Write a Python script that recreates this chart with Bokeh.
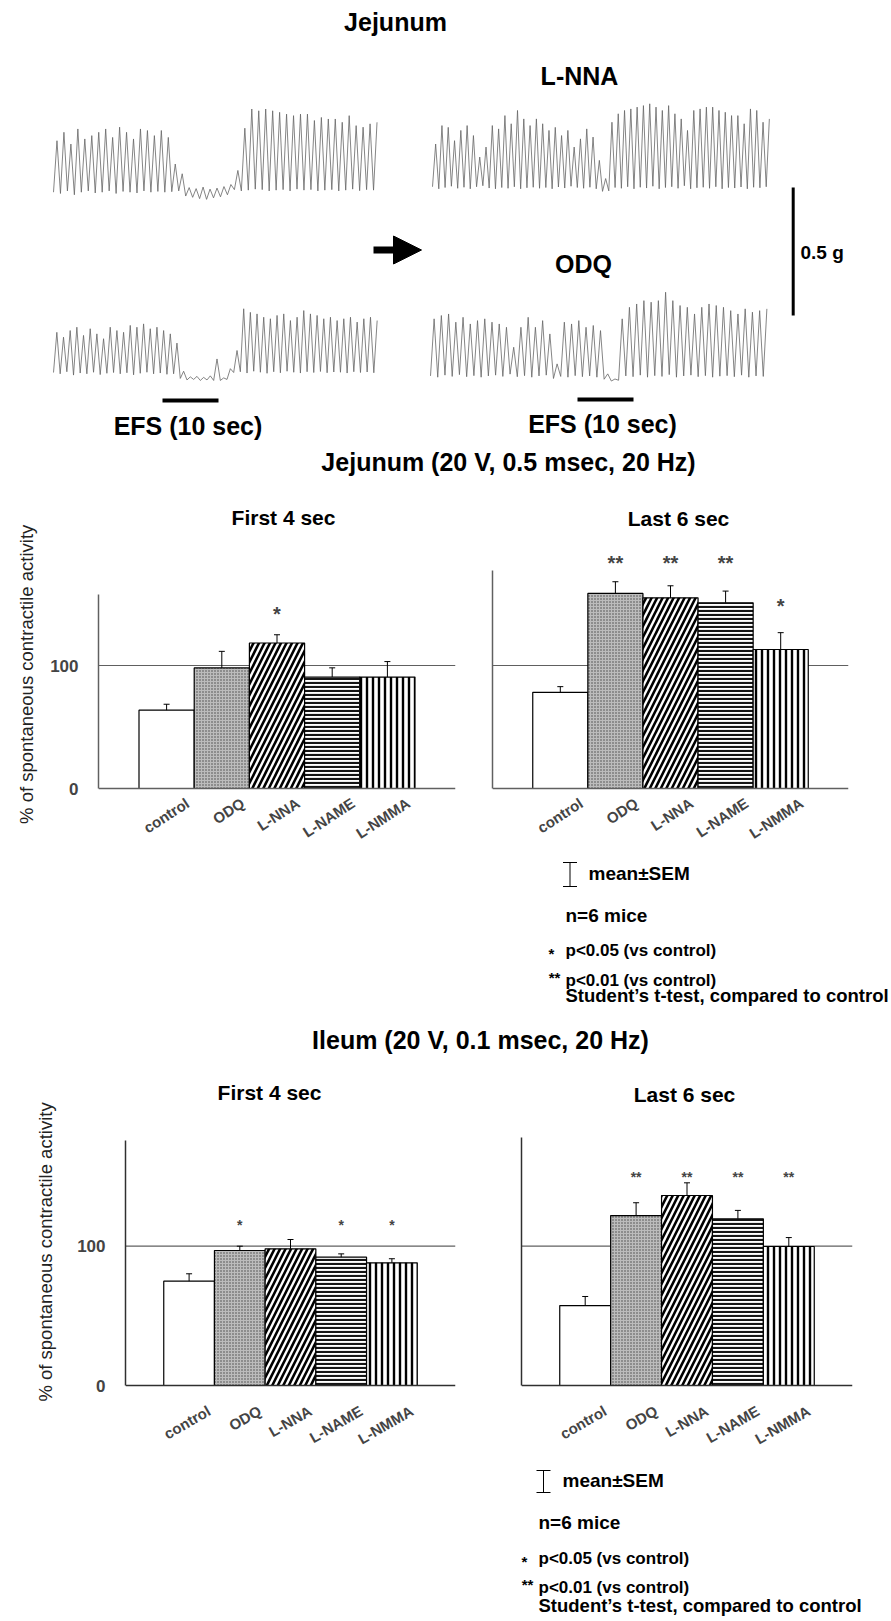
import math

from bokeh.core.properties import value
from bokeh.embed import file_html
from bokeh.layouts import column, row
from bokeh.models import (Arrow, ColumnDataSource, FactorRange, FixedTicker, Label,
                          LabelSet, NormalHead, Range1d, Span, TeeHead, Whisker)
from bokeh.plotting import figure
from bokeh.resources import INLINE

# ---------------------------------------------------------------- data
agents = ["control", "ODQ", "L-NNA", "L-NAME", "L-NMMA"]

# % of spontaneous contractile activity during EFS (mean, SEM), n = 6 mice
jej_first_mean = [63.7, 98.0, 118.3, 90.6, 90.6]
jej_first_sem = [4.8, 13.5, 6.7, 7.5, 12.6]
jej_first_sig = ["", "", "*", "", ""]

jej_last_mean = [78.2, 158.6, 155.0, 151.0, 113.0]
jej_last_sem = [4.6, 9.5, 9.8, 9.5, 13.7]
jej_last_sig = ["", "**", "**", "**", "*"]

ile_first_mean = [74.9, 96.9, 98.1, 92.1, 88.1]
ile_first_sem = [5.3, 3.1, 6.7, 2.4, 2.9]
ile_first_sig = ["", "*", "", "*", "*"]

ile_last_mean = [57.4, 122.0, 136.4, 119.7, 99.8]
ile_last_sem = [6.5, 9.2, 9.1, 6.0, 6.4]
ile_last_sig = ["", "**", "**", "**", "**"]

# jejunal tension recordings: mg above resting level, one peak / trough per cycle
ctrl_a_peaks = [201, 234, 188, 247, 208, 221, 234, 247, 214, 254, 234, 208, 247, 241, 221,
                241, 214, 110, 72, 18, 14, 20, 12, 16, 22, 30, 85, 250, 325, 318, 325, 318,
                312, 305, 299, 305, 305, 280, 292, 286, 286, 273, 299, 260, 254, 267, 273]
ctrl_a_troughs = [0, -5, 5, -10, 0, 5, -3, 0, 5, -5, 3, 0, -3, 5, 0, 3, 0, 2, 5, -15, -20,
                  -25, -28, -22, -18, -10, 10, 5, 8, 12, 10, 5, 8, 10, 5, 12, 8, 10, 5, 8, 10,
                  5, 8, 12, 6, 10, 8]

ctrl_b_peaks = [162, 143, 169, 182, 150, 176, 156, 137, 182, 169, 162, 189, 182, 195, 176,
                182, 169, 156, 120, 10, -12, -10, -14, -8, 58, -16, 20, 91, 254, 240, 234,
                221, 215, 228, 234, 208, 221, 247, 234, 228, 215, 221, 208, 215, 221, 202,
                215, 221, 208]
ctrl_b_troughs = [5, 0, 8, -5, 3, 0, 6, -3, 2, 5, 0, 4, -4, 2, 6, 0, 3, -2, 0, -18, -24, -22,
                  -26, -24, -26, -26, -22, 5, 8, 3, 10, 6, 2, 8, 4, 10, 6, 3, 8, 5, 9, 4, 7, 6,
                  3, 8, 5, 7, 4]

lnna_peaks = [175, 247, 240, 188, 228, 247, 208, 124, 163, 247, 234, 286, 254, 306, 273, 247,
              273, 254, 228, 240, 208, 228, 163, 195, 234, 202, 111, 40, 260, 293, 306, 312,
              319, 325, 332, 319, 306, 325, 293, 273, 228, 306, 312, 319, 319, 306, 299, 286,
              286, 254, 312, 306, 260, 273]
lnna_troughs = [8, 0, 5, 10, 2, 6, 0, 8, 12, 3, 0, 5, 2, 8, 0, 4, 6, 2, 5, 0, 7, 3, 10, 5, 2,
                6, 0, -10, -8, 5, 2, 8, 0, 6, 3, 10, 0, 5, 8, 2, 12, 0, 4, 6, 2, 8, 0, 5, 3, 7,
                0, 6, 4, 8]

odq_peaks = [228, 241, 247, 215, 234, 208, 221, 228, 215, 208, 195, 117, 195, 234, 195, 221,
             169, 52, 215, 208, 221, 195, 202, 182, 13, -7, 228, 273, 286, 299, 293, 299, 332,
             299, 280, 273, 247, 273, 286, 280, 273, 260, 247, 267, 254, 260, 267]
odq_troughs = [5, 0, 8, 3, 10, 2, 6, 0, 5, 8, 3, 12, 2, 6, 0, 5, 8, -5, 3, 0, 6, 2, 5, 0, -8,
               -15, -12, 5, 2, 8, 0, 6, 3, 10, 0, 5, 8, 2, 6, 0, 4, 6, 2, 8, 0, 5, 3]

EFS_SECONDS = 10
SCALE_MG = 500

# ---------------------------------------------------------------- styles
FONT = "Liberation Sans"
W = 891

BAR_STYLE = {
    "control": dict(fill="white", hatch=" ", scale=6, weight=1, color="black"),
    "ODQ": dict(fill="#bcbcbc", hatch="dot", scale=3, weight=1, color="#444444"),
    "L-NNA": dict(fill="white", hatch="right_diagonal_line", scale=11, weight=2.6,
                  color="black"),
    "L-NAME": dict(fill="white", hatch="horizontal_line", scale=4, weight=2.2, color="#151515"),
    "L-NMMA": dict(fill="white", hatch="vertical_line", scale=6, weight=2.4, color="black"),
}


def add_text(fig, x, y, txt, size, align="center", bold=True, angle=0.0,
             baseline="middle", color="black"):
    fig.add_layout(Label(x=x, y=y, text=txt, text_font=FONT, text_font_size=f"{size}px",
                         text_font_style="bold" if bold else "normal", text_align=align,
                         text_baseline=baseline, angle=angle, text_color=color))


def text_strip(width, height):
    """Blank canvas whose data units are pixels (y downwards), for captions."""
    return figure(width=width, height=height, output_backend="svg", toolbar_location=None,
                  x_range=Range1d(0, width), y_range=Range1d(height, 0), x_axis_type=None,
                  y_axis_type=None, min_border=0, outline_line_color=None)


# ---------------------------------------------------------------- recordings
PX_PER_S = 5.6           # time scale of the chart recorder
MG_PER_PX = SCALE_MG / 128
T0_PX = 53
TOP_H = 480

top = figure(width=W, height=TOP_H, output_backend="svg", toolbar_location=None,
             x_range=Range1d(-T0_PX / PX_PER_S, (W - T0_PX) / PX_PER_S),
             y_range=Range1d(0, TOP_H * MG_PER_PX), x_axis_type=None, y_axis_type=None,
             min_border=0, outline_line_color=None)


def top_pt(xp, yp):
    return (xp - T0_PX) / PX_PER_S, (TOP_H - yp) * MG_PER_PX


recordings = [
    (ctrl_a_peaks, ctrl_a_troughs, 53, 380, 191.7),
    (ctrl_b_peaks, ctrl_b_troughs, 53, 380, 373.3),
    (lnna_peaks, lnna_troughs, 432, 772, 188.3),
    (odq_peaks, odq_troughs, 430, 770, 376.7),
]
for peaks, troughs, x_start, x_end, base_py in recordings:
    t0, base = top_pt(x_start, base_py)
    t1, _ = top_pt(x_end, base_py)
    per = (t1 - t0) / len(peaks)
    xs, ys = [], []
    for i, (pk, tr) in enumerate(zip(peaks, troughs)):
        xs += [t0 + i * per, t0 + (i + 0.5) * per]
        ys += [base + tr, base + pk]
    top.line(xs, ys, line_color="#666666", line_width=0.8)

# stimulation bars (10 s)
for xp, yp in [(162, 400), (577, 399)]:
    t, y = top_pt(xp, yp)
    top.segment(x0=[t], y0=[y], x1=[t + EFS_SECONDS], y1=[y], line_color="black",
                line_width=4)

# 0.5 g calibration bar
t, y = top_pt(792.7, 315)
top.segment(x0=[t], y0=[y], x1=[t], y1=[y + SCALE_MG], line_color="black", line_width=3)

ax0, ay = top_pt(373, 249.5)
ax1, _ = top_pt(421, 249.5)
top.add_layout(Arrow(end=NormalHead(size=28, fill_color="black", line_color="black",
                                    line_width=1),
                     x_start=ax0, y_start=ay, x_end=ax1, y_end=ay, line_width=7,
                     line_color="black"))

for txt, xp, yp, size, align in [
        ("Jejunum", 395, 21, 25, "center"),
        ("L-NNA", 579, 75, 25, "center"),
        ("ODQ", 583, 263, 25, "center"),
        ("0.5 g", 800, 252, 19, "left"),
        ("EFS (10 sec)", 187.5, 425, 25, "center"),
        ("EFS (10 sec)", 602, 423, 25, "center"),
        ("Jejunum (20 V, 0.5 msec, 20 Hz)", 508, 461, 25, "center")]:
    x, y = top_pt(xp, yp)
    add_text(top, x, y, txt, size, align=align)

# ---------------------------------------------------------------- bar panels
PANELS = {
    "jl": dict(width=425, height=370, left=53, right=15, x0=45, y0=480, zero_py=788,
               bar_px=55.2, py_per_unit=1.23, axis_top=158, ticks=[0, 100],
               axis_color="#606060", star_size=20, star_y=[146] * 5, lab_angle=33,
               lab_dx=21, lab_dy=13, sub=("First 4 sec", 283, 517)),
    "jr": dict(width=421, height=370, left=22, right=43, x0=470, y0=480, zero_py=788,
               bar_px=55.1, py_per_unit=1.23, axis_top=177, ticks=[],
               axis_color="#606060", star_size=20, star_y=[187, 187, 187, 187, 152],
               lab_angle=33, lab_dx=21, lab_dy=13, sub=("Last 6 sec", 678, 518)),
    "il": dict(width=410, height=395, left=65, right=15, x0=60, y0=1065, zero_py=1385,
               bar_px=50.7, py_per_unit=1.393, axis_top=176, ticks=[0, 100],
               axis_color="#303030", star_size=14, star_y=[117.7] * 5, lab_angle=30,
               lab_dx=20, lab_dy=24, sub=("First 4 sec", 269, 1092)),
    "ir": dict(width=421, height=395, left=51, right=39, x0=470, y0=1065, zero_py=1385,
               bar_px=50.9, py_per_unit=1.393, axis_top=178, ticks=[],
               axis_color="#303030", star_size=14, star_y=[152] * 5, lab_angle=30,
               lab_dx=20, lab_dy=24, sub=("Last 6 sec", 684, 1094)),
}
BORDER_TOP, BORDER_BOTTOM = 10, 2


def bar_panel(cfg, means, sems, marks):
    n = len(agents)
    fw = cfg["width"] - cfg["left"] - cfg["right"]
    pad = (fw / cfg["bar_px"] - n) / 2
    frame_left = cfg["x0"] + cfg["left"]
    frame_top = cfg["y0"] + BORDER_TOP
    frame_bottom = cfg["y0"] + cfg["height"] - BORDER_BOTTOM
    ppu = cfg["py_per_unit"]
    zero_py = cfg["zero_py"]

    def at(px, py):
        return -pad + (px - frame_left) / cfg["bar_px"], (zero_py - py) / ppu

    p = figure(width=cfg["width"], height=cfg["height"], output_backend="svg",
               toolbar_location=None, x_axis_type=None,
               x_range=FactorRange(factors=agents, range_padding=pad,
                                   range_padding_units="absolute"),
               y_range=Range1d(-(frame_bottom - zero_py) / ppu, (zero_py - frame_top) / ppu),
               min_border_left=cfg["left"], min_border_right=cfg["right"],
               min_border_top=BORDER_TOP, min_border_bottom=BORDER_BOTTOM,
               outline_line_color=None)
    p.xgrid.visible = False
    p.ygrid.visible = False

    ya = p.yaxis[0]
    ya.ticker = FixedTicker(ticks=cfg["ticks"])
    ya.bounds = (0, cfg["axis_top"])
    ya.axis_line_color = cfg["axis_color"]
    ya.axis_line_width = 1.5
    ya.major_tick_line_color = None
    ya.minor_tick_line_color = None
    ya.major_tick_out = 0
    ya.major_tick_in = 0
    ya.major_label_standoff = 20
    ya.major_label_text_font = FONT
    ya.major_label_text_font_style = "bold"
    ya.major_label_text_font_size = "17px"

    # 100 % reference line behind the bars
    p.add_layout(Span(location=100, dimension="width", line_color="#606060",
                      line_width=1.2, level="underlay"))

    src = ColumnDataSource(dict(
        agent=agents, mean=means, upper=[m + s for m, s in zip(means, sems)],
        zero=[0] * n,
        fill=[BAR_STYLE[a]["fill"] for a in agents],
        hatch=[BAR_STYLE[a]["hatch"] for a in agents],
        hscale=[BAR_STYLE[a]["scale"] for a in agents],
        hweight=[BAR_STYLE[a]["weight"] for a in agents],
        hcolor=[BAR_STYLE[a]["color"] for a in agents]))

    p.vbar(x="agent", top="mean", bottom=0, width=1.0, source=src, fill_color="fill",
           line_color="black", line_width=1.2, hatch_pattern="hatch", hatch_scale="hscale",
           hatch_weight="hweight", hatch_color="hcolor")

    # category baseline
    p.add_layout(Span(location=0, dimension="width", line_color=cfg["axis_color"],
                      line_width=1.6))

    p.add_layout(Whisker(source=src, base="agent", lower="mean", upper="upper",
                         line_color="black", line_width=1, level="annotation",
                         upper_head=TeeHead(size=6, line_color="black", line_width=1),
                         lower_head=None))

    sig = [(a, m, y) for a, m, y in zip(agents, marks, cfg["star_y"]) if m]
    star_src = ColumnDataSource(dict(agent=[s[0] for s in sig], mark=[s[1] for s in sig],
                                     y=[s[2] for s in sig]))
    fs = cfg["star_size"]
    p.add_layout(LabelSet(x="agent", y="y", text="mark", source=star_src,
                          text_align="center", text_baseline="alphabetic",
                          y_offset=-0.58 * fs, text_font=value(FONT),
                          text_font_size=value(f"{fs}px"), text_font_style="bold"))

    # slanted category names under the baseline
    p.add_layout(LabelSet(x="agent", y="zero", text="agent", source=src,
                          angle=math.radians(cfg["lab_angle"]), text_align="right",
                          text_baseline="middle", x_offset=cfg["lab_dx"],
                          y_offset=-cfg["lab_dy"], text_font=value(FONT),
                          text_font_size=value("15px"), text_font_style="bold"))

    sub, sx, sy = cfg["sub"]
    x, y = at(sx, sy)
    add_text(p, x, y, sub, 21)
    return p


jl = bar_panel(PANELS["jl"], jej_first_mean, jej_first_sem, jej_first_sig)
jr = bar_panel(PANELS["jr"], jej_last_mean, jej_last_sem, jej_last_sig)
il = bar_panel(PANELS["il"], ile_first_mean, ile_first_sem, ile_first_sig)
ir = bar_panel(PANELS["ir"], ile_last_mean, ile_last_sem, ile_last_sig)

Y_TITLE = "% of spontaneous contractile activity"
jt = text_strip(45, 370)
add_text(jt, 26, 190, Y_TITLE, 18.5, bold=False, angle=math.pi / 2, color="#222222")
it = text_strip(60, 395)
add_text(it, 45, 182, Y_TITLE, 18.5, bold=False, angle=math.pi / 2, color="#222222")


# ---------------------------------------------------------------- key / captions
def key(fig, x_bar, y_top, y_bot, x_txt, x_star, rows):
    fig.segment(x0=[x_bar, x_bar - 7, x_bar - 7], y0=[y_top, y_top, y_bot],
                x1=[x_bar, x_bar + 7, x_bar + 7], y1=[y_bot, y_top, y_bot],
                line_color="black", line_width=1)
    (y_mean, x_mean), y_n, y_p05, y_p01, y_st = rows
    add_text(fig, x_mean, y_mean, "mean\u00b1SEM", 19, align="left")
    add_text(fig, x_txt, y_n, "n=6 mice", 19, align="left")
    add_text(fig, x_star, y_p05 + 3, "*", 15)
    add_text(fig, x_txt, y_p05, "p<0.05 (vs control)", 17, align="left")
    add_text(fig, x_star + 3, y_p01, "**", 15)
    add_text(fig, x_txt, y_p01 + 3, "p<0.01 (vs control)", 17, align="left")
    add_text(fig, x_txt, y_st, "Student\u2019s t-test, compared to control", 18.5,
             align="left")


leg_j = text_strip(W, 215)
key(leg_j, 569.5, 12, 36, 565, 551, [(23, 588), 65, 100, 127, 145])
add_text(leg_j, 480, 189, "Ileum (20 V, 0.1 msec, 20 Hz)", 25)

leg_i = text_strip(W, 161)
key(leg_i, 543, 10, 32, 538, 524, [(20, 562), 62, 98, 124, 145])

layout = column(top, row(jt, jl, jr), leg_j, row(it, il, ir), leg_i)

open("out.html", "w").write(file_html(layout, INLINE))
